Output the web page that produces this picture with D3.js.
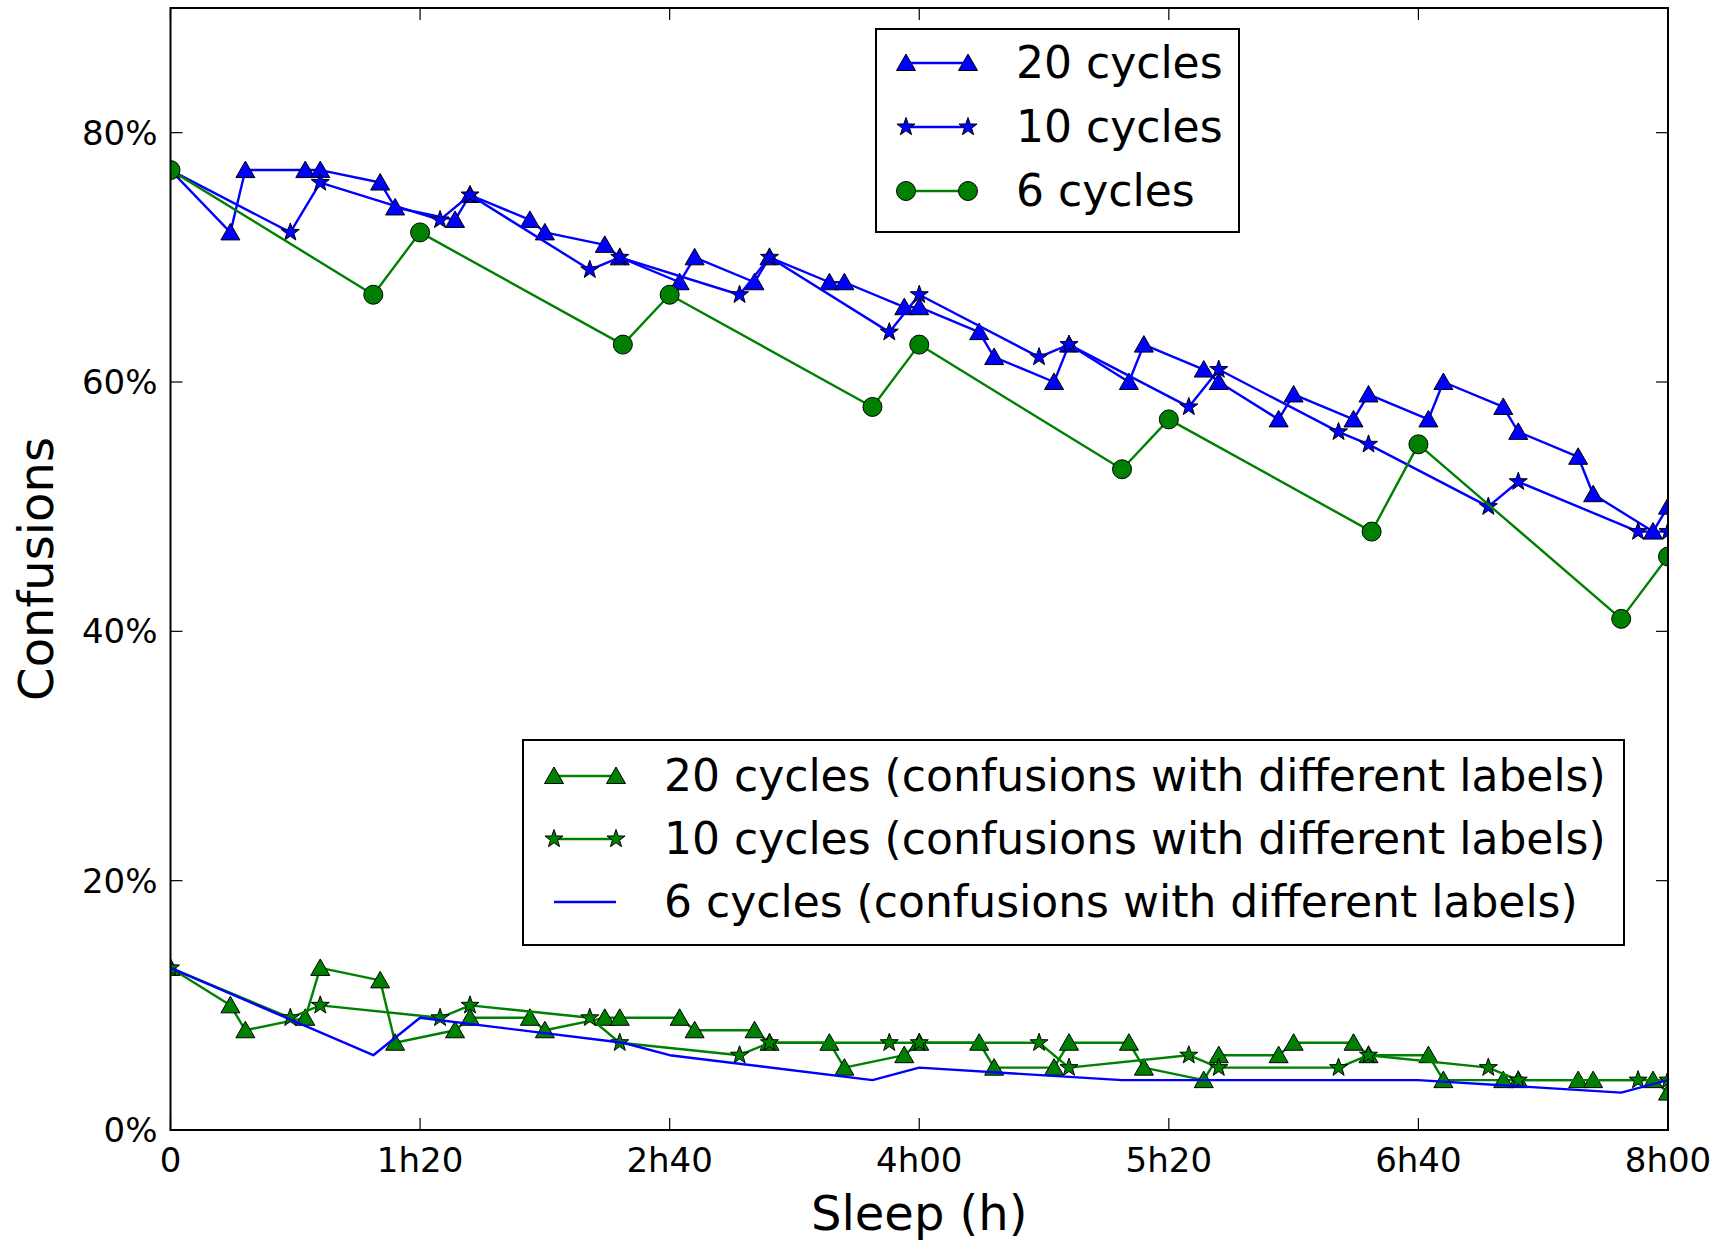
<!DOCTYPE html>
<html>
<head>
<meta charset="utf-8">
<script src="https://cdn.jsdelivr.net/npm/d3@7"></script>
<style>
body { margin: 0; background: #fff; }
svg text { font-family: "DejaVu Sans", sans-serif; fill: #000; }
</style>
</head>
<body>
<svg id="chart" width="1725" height="1240"></svg>
<script>
// sleep times (minutes) at which each run was measured
var t20 = [0, 19.2, 24, 43.2, 48, 67.2, 72, 91.2, 96, 115.2, 120, 139.2, 144, 163.2, 168,
           187.2, 192, 211.2, 216, 235.2, 240, 259.2, 264, 283.2, 288, 307.2, 312, 331.2, 336,
           355.2, 360, 379.2, 384, 403.2, 408, 427.2, 432, 451.2, 456, 475.2, 480];
var t10 = [0, 38.4, 48, 86.4, 96, 134.4, 144, 182.4, 192, 230.4, 240, 278.4, 288, 326.4, 336,
           374.4, 384, 422.4, 432, 470.4, 480];
var t6 = [0, 65, 80, 145, 160, 225, 240, 305, 320, 385, 400, 465, 480];

// confusions (%)
var all20 = [77, 72, 77, 77, 77, 76, 74, 73, 75, 73, 72, 71, 70, 68, 70, 68, 70, 68, 68, 66, 66,
             64, 62, 60, 63, 60, 63, 61, 60, 57, 59, 57, 59, 57, 60, 58, 56, 54, 51, 48, 50];
var all10 = [77, 72, 76, 73, 75, 69, 70, 67, 70, 64, 67, 62, 63, 58, 61, 56, 55, 50, 52, 48, 48];
var all6 = [77, 67, 72, 63, 67, 58, 63, 53, 57, 48, 55, 41, 46];

// confusions with different labels (%)
var diff20 = [13, 10, 8, 9, 13, 12, 7, 8, 9, 9, 8, 9, 9, 9, 8, 8, 7, 7, 5, 6, 7,
              7, 5, 5, 7, 7, 5, 4, 6, 6, 7, 7, 6, 6, 4, 4, 4, 4, 4, 4, 3];
var diff10 = [13, 9, 10, 9, 10, 9, 7, 6, 7, 7, 7, 7, 5, 6, 5, 5, 6, 5, 4, 4, 4];
var diff6 = [13, 6, 9, 7, 6, 4, 5, 4, 4, 4, 4, 3, 4];

var xTicks = [0, 80, 160, 240, 320, 400, 480];
var xTickLabels = ['0', '1h20', '2h40', '4h00', '5h20', '6h40', '8h00'];
var yTicks = [0, 20, 40, 60, 80];

var BLUE = '#0000ff', GREEN = '#008000';

var series = [
    {t: t20, v: all20, color: BLUE, marker: 'tri', label: '20 cycles', legend: 0},
    {t: t10, v: all10, color: BLUE, marker: 'star', label: '10 cycles', legend: 0},
    {t: t6, v: all6, color: GREEN, marker: 'circle', label: '6 cycles', legend: 0},
    {t: t20, v: diff20, color: GREEN, marker: 'tri', label: '20 cycles (confusions with different labels)', legend: 1},
    {t: t10, v: diff10, color: GREEN, marker: 'star', label: '10 cycles (confusions with different labels)', legend: 1},
    {t: t6, v: diff6, color: BLUE, marker: null, label: '6 cycles (confusions with different labels)', legend: 1}
];

var pLeft = 170.5, pRight = 1668, pTop = 8, pBottom = 1130;

var svg = d3.select('#chart');
var x = d3.scaleLinear().domain([0, 480]).range([pLeft, pRight]);
var y = d3.scaleLinear().domain([0, 90]).range([pBottom, pTop]);

function starPath(R) {
    var pts = [];
    for (var i = 0; i < 10; i++) {
        var r = i % 2 ? R * 0.4 : R;
        var a = -Math.PI / 2 + i * Math.PI / 5;
        pts.push([r * Math.cos(a), r * Math.sin(a)]);
    }
    return 'M' + pts.join('L') + 'Z';
}
var markerPath = {
    tri: 'M0,-9L9.5,7.5L-9.5,7.5Z',
    star: starPath(9.5),
    circle: d3.symbol().type(d3.symbolCircle).size(Math.PI * 9.5 * 9.5)()
};

function drawMarkers(g, pts, s) {
    if (!s.marker) return;
    g.selectAll('path.mk')
        .data(pts)
        .enter()
        .append('path')
        .attr('class', 'mk')
        .attr('d', markerPath[s.marker])
        .attr('transform', function (d) { return 'translate(' + d[0] + ',' + d[1] + ')'; })
        .attr('fill', s.color)
        .attr('stroke', '#000')
        .attr('stroke-width', 1);
}

svg.append('defs').append('clipPath')
    .attr('id', 'plotclip')
    .append('rect')
    .attr('x', pLeft).attr('y', pTop)
    .attr('width', pRight - pLeft).attr('height', pBottom - pTop);

var plot = svg.append('g').attr('clip-path', 'url(#plotclip)');
var line = d3.line();

series.forEach(function (s) {
    var pts = s.t.map(function (t, i) { return [x(t), y(s.v[i])]; });
    var g = plot.append('g');
    g.append('path')
        .attr('d', line(pts))
        .attr('fill', 'none')
        .attr('stroke', s.color)
        .attr('stroke-width', 2.4)
        .attr('stroke-linejoin', 'round');
    drawMarkers(g, pts, s);
});

// ticks, inside, on all four sides
var tk = 12;
var ax = svg.append('g').attr('stroke', '#000').attr('stroke-width', 1.2);
xTicks.forEach(function (t) {
    ax.append('line').attr('x1', x(t)).attr('x2', x(t)).attr('y1', pBottom).attr('y2', pBottom - tk);
    ax.append('line').attr('x1', x(t)).attr('x2', x(t)).attr('y1', pTop).attr('y2', pTop + tk);
});
yTicks.forEach(function (v) {
    ax.append('line').attr('x1', pLeft).attr('x2', pLeft + tk).attr('y1', y(v)).attr('y2', y(v));
    ax.append('line').attr('x1', pRight).attr('x2', pRight - tk).attr('y1', y(v)).attr('y2', y(v));
});

svg.append('rect')
    .attr('x', pLeft).attr('y', pTop)
    .attr('width', pRight - pLeft).attr('height', pBottom - pTop)
    .attr('fill', 'none')
    .attr('stroke', '#000')
    .attr('stroke-width', 2);

svg.append('g').selectAll('text')
    .data(xTicks)
    .enter()
    .append('text')
    .attr('x', function (d) { return x(d); })
    .attr('y', pBottom + 30)
    .attr('dy', '0.35em')
    .attr('text-anchor', 'middle')
    .attr('font-size', 34)
    .text(function (d, i) { return xTickLabels[i]; });

svg.append('g').selectAll('text')
    .data(yTicks)
    .enter()
    .append('text')
    .attr('x', pLeft - 13)
    .attr('y', function (d) { return y(d); })
    .attr('dy', '0.35em')
    .attr('text-anchor', 'end')
    .attr('font-size', 34)
    .text(function (d) { return d + '%'; });

svg.append('text')
    .attr('x', (pLeft + pRight) / 2)
    .attr('y', 1230)
    .attr('text-anchor', 'middle')
    .attr('font-size', 48)
    .text('Sleep (h)');

svg.append('text')
    .attr('transform', 'translate(36,' + ((pTop + pBottom) / 2) + ') rotate(-90)')
    .attr('dy', '0.35em')
    .attr('text-anchor', 'middle')
    .attr('font-size', 48)
    .text('Confusions');

// legends
var legends = [
    {x: 876, y: 29, w: 363, h: 203, hx: 906, tx: 1016, row0: 63, step: 64},
    {x: 523, y: 740, w: 1101, h: 205, hx: 554, tx: 664, row0: 776, step: 63}
];
legends.forEach(function (L, li) {
    var g = svg.append('g');
    g.append('rect')
        .attr('x', L.x).attr('y', L.y)
        .attr('width', L.w).attr('height', L.h)
        .attr('fill', '#fff')
        .attr('stroke', '#000')
        .attr('stroke-width', 2);
    series.filter(function (s) { return s.legend === li; }).forEach(function (s, i) {
        var ry = L.row0 + i * L.step;
        var pts = [[L.hx, ry], [L.hx + 62, ry]];
        g.append('path')
            .attr('d', line(pts))
            .attr('stroke', s.color)
            .attr('stroke-width', 2.4);
        drawMarkers(g.append('g'), pts, s);
        g.append('text')
            .attr('x', L.tx)
            .attr('y', ry)
            .attr('dy', '0.35em')
            .attr('font-size', 44)
            .text(s.label);
    });
});
</script>
</body>
</html>
